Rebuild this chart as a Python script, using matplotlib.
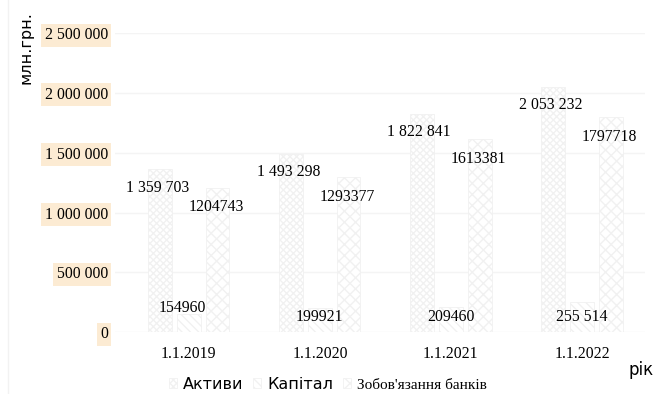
import matplotlib.pyplot as plt
import numpy as np
from matplotlib.lines import Line2D

# Data
dates = ['1.1.2019', '1.1.2020', '1.1.2021', '1.1.2022']
assets = [1359703, 1493298, 1822841, 2053232]
capital = [154960, 199921, 209460, 255514]
liabilities = [1204743, 1293377, 1613381, 1797718]
assets_labels = ['1 359 703', '1 493 298', '1 822 841', '2 053 232']
capital_labels = ['154960', '199921', '209460', '255 514']
liabilities_labels = ['1204743', '1293377', '1613381', '1797718']
yticks = [0, 500000, 1000000, 1500000, 2000000, 2500000]
ytick_labels = ['0', '500 000', '1 000 000', '1 500 000', '2 000 000', '2 500 000']

serif = 'Liberation Serif'
sans = 'DejaVu Sans'

fig = plt.figure(figsize=(6.56, 3.94), dpi=100)
ax = fig.add_axes([0.175, 0.157, 0.808, 0.759])

x = np.arange(len(dates))
w = 0.18
step = 0.22
edge = '#f1f1f1'
b1 = ax.bar(x - step, assets, w, color='white', edgecolor=edge, hatch='xxxxx', linewidth=0.6, label='Активи')
b2 = ax.bar(x, capital, w, color='white', edgecolor=edge, hatch='\\\\\\\\', linewidth=0.6, label='Капітал')
b3 = ax.bar(x + step, liabilities, w, color='white', edgecolor=edge, hatch='xxx', linewidth=0.6,
            label="Зобов'язання банків")

# data labels (offsets in points)
for i in range(len(dates)):
    ax.annotate(assets_labels[i], (x[i] - step, assets[i]), xytext=(-2, -13), textcoords='offset points',
                ha='center', va='center', fontfamily=serif, fontsize=11.3)
    ax.annotate(liabilities_labels[i], (x[i] + step, liabilities[i]), xytext=(-1, -14),
                textcoords='offset points', ha='center', va='center', fontfamily=serif, fontsize=11.3)
    if i == 0:
        ax.annotate(capital_labels[i], (x[i] - 0.05, capital[i]), xytext=(0, 4), textcoords='offset points',
                    ha='center', va='center', fontfamily=serif, fontsize=11.3)
    else:
        ax.annotate(capital_labels[i], (x[i], 0), xytext=(0, 11), textcoords='offset points',
                    ha='center', va='center', fontfamily=serif, fontsize=11.3)

ax.set_xlim(-0.565, 3.48)
ax.set_ylim(0, 2500000)
ax.set_xticks(x)
ax.set_xticklabels(dates, fontfamily=serif, fontsize=11.3)
ax.set_yticks(yticks)
ax.set_yticklabels(ytick_labels, fontfamily=serif, fontsize=11.3)
for t in ax.get_yticklabels():
    t.set_bbox(dict(facecolor='#fcebd3', edgecolor='none', pad=2.5))
ax.tick_params(axis='y', length=0, pad=5)
ax.tick_params(axis='x', length=0, pad=10)
ax.grid(axis='y', color='#f4f4f4', linewidth=1)
ax.set_axisbelow(True)
for s in ax.spines.values():
    s.set_visible(False)

fig.text(0.04, 0.88, 'млн.грн.', rotation=90, ha='center', va='center', fontfamily=sans, fontsize=11.5)
fig.text(0.958, 0.06, 'рік', ha='left', va='center', fontfamily=sans, fontsize=12)

leg = fig.legend(handles=[b1, b2, b3], loc='center', bbox_to_anchor=(0.5, 0.025), ncol=3, frameon=False,
                 prop={'family': sans, 'size': 11.5}, handlelength=0.5, handleheight=0.5, handletextpad=0.4,
                 columnspacing=0.6)
leg.get_texts()[2].set_fontfamily(serif)
leg.get_texts()[2].set_fontsize(11)

fig.add_artist(Line2D([0.012, 0.012], [0, 1], color='#f2f2f2', linewidth=1, transform=fig.transFigure))

fig.savefig('out.png', dpi=100)
